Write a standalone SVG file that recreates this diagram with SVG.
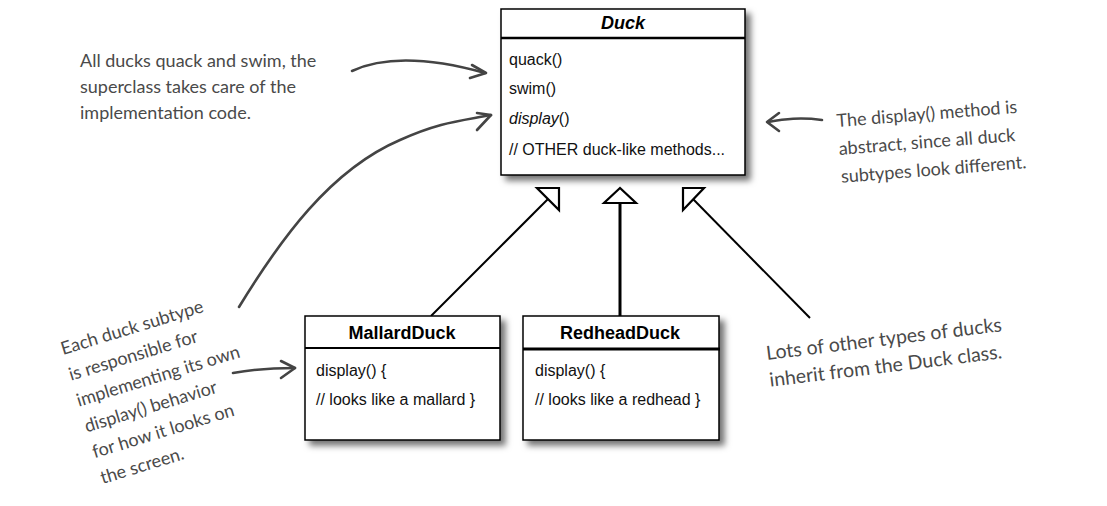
<svg xmlns="http://www.w3.org/2000/svg" width="1107" height="506" viewBox="0 0 1107 506">
<defs>
<filter id="sh" x="-10%" y="-10%" width="130%" height="130%">
<feDropShadow dx="5" dy="5" stdDeviation="3" flood-color="#000" flood-opacity="0.55"/>
</filter>
</defs>
<style>
.box{fill:#fff;stroke:#000;stroke-width:1.5}
.sep{stroke:#000;stroke-width:2.5}
.t{font-family:"Liberation Sans",Arial,sans-serif;font-size:16px;fill:#111}
.h{font-family:"Liberation Sans",Arial,sans-serif;font-size:18px;font-weight:bold;fill:#000;text-anchor:middle}
.n{font-family:"Lato","Liberation Sans",sans-serif;font-size:18px;fill:#4a4a4a}
.ln{fill:none;stroke:#000;stroke-width:2}
.tri{fill:#fff;stroke:#000;stroke-width:2.2}
.hw{fill:none;stroke:#444;stroke-width:2.6;stroke-linecap:round;stroke-linejoin:round}
</style>
<rect width="1107" height="506" fill="#fff"/>

<g id="connectors">
<line class="ln" x1="431" y1="316" x2="548" y2="199"/>
<polygon class="tri" points="559,188 537,188 559,210"/>
<line class="ln" x1="620" y1="316" x2="620" y2="203" style="stroke-width:3"/>
<polygon class="tri" points="620,188 604,203 636,203"/>
<line class="ln" x1="810" y1="318" x2="693" y2="199"/>
<polygon class="tri" points="683,188 704,188 683,210"/>
<path class="hw" d="M352,71 C380,58 420,55 485,73"/>
<path class="hw" d="M472,65 L486,73 L470,78"/>
<path class="hw" d="M239,307 C280,240 330,170 400,140 C440,122 460,121 491,115"/>
<path class="hw" d="M477,113 L491,115 L477,130"/>
<path class="hw" d="M822,120 C800,117 785,119 768,122"/>
<path class="hw" d="M779,113 L767,122 L779,131"/>
<path class="hw" d="M233,373 C255,369 275,368 295,368"/>
<path class="hw" d="M281,361 L295,368 L281,378"/>
</g>

<g id="duck">
<rect class="box" x="501" y="9" width="244" height="166" filter="url(#sh)"/>
<line class="sep" x1="501" y1="38" x2="745" y2="38"/>
<text class="h" x="623" y="29" font-style="italic">Duck</text>
<text class="t" x="509" y="65">quack()</text>
<text class="t" x="509" y="94">swim()</text>
<text class="t" x="509" y="124"><tspan font-style="italic">display</tspan>()</text>
<text class="t" x="509" y="155">// OTHER duck-like methods...</text>
</g>

<g id="mallard">
<rect class="box" x="305" y="316" width="195" height="124" filter="url(#sh)"/>
<line class="sep" x1="305" y1="348" x2="500" y2="348" style="stroke-width:2"/>
<text class="h" x="402" y="339">MallardDuck</text>
<text class="t" x="316" y="376">display() {</text>
<text class="t" x="316" y="405">// looks like a mallard }</text>
</g>

<g id="redhead">
<rect class="box" x="523" y="316" width="196" height="124" filter="url(#sh)"/>
<line class="sep" x1="523" y1="349" x2="720" y2="349" style="stroke-width:3"/>
<text class="h" x="620" y="339">RedheadDuck</text>
<text class="t" x="535" y="376">display() {</text>
<text class="t" x="535" y="405">// looks like a redhead }</text>
</g>

<g id="note-superclass">
<text class="n" x="80" y="67">All ducks quack and swim, the</text>
<text class="n" x="80" y="93">superclass takes care of the</text>
<text class="n" x="80" y="119">implementation code.</text>
</g>

<g id="note-abstract" transform="rotate(-4.5 837 127)">
<text class="n" x="837" y="127">The display() method is</text>
<text class="n" x="837" y="155">abstract, since all duck</text>
<text class="n" x="837" y="183">subtypes look different.</text>
</g>

<g id="note-subtype" transform="rotate(-17 63 355)">
<text class="n" x="63" y="355">Each duck subtype</text>
<text class="n" x="63" y="382">is responsible for</text>
<text class="n" x="63" y="409">implementing its own</text>
<text class="n" x="63" y="436">display() behavior</text>
<text class="n" x="63" y="463">for how it looks on</text>
<text class="n" x="63" y="490">the screen.</text>
</g>

<g id="note-others" transform="rotate(-7 767 360)">
<text class="n" x="767" y="360" style="font-size:19.5px">Lots of other types of ducks</text>
<text class="n" x="767" y="387" style="font-size:19.5px">inherit from the Duck class.</text>
</g>
</svg>
